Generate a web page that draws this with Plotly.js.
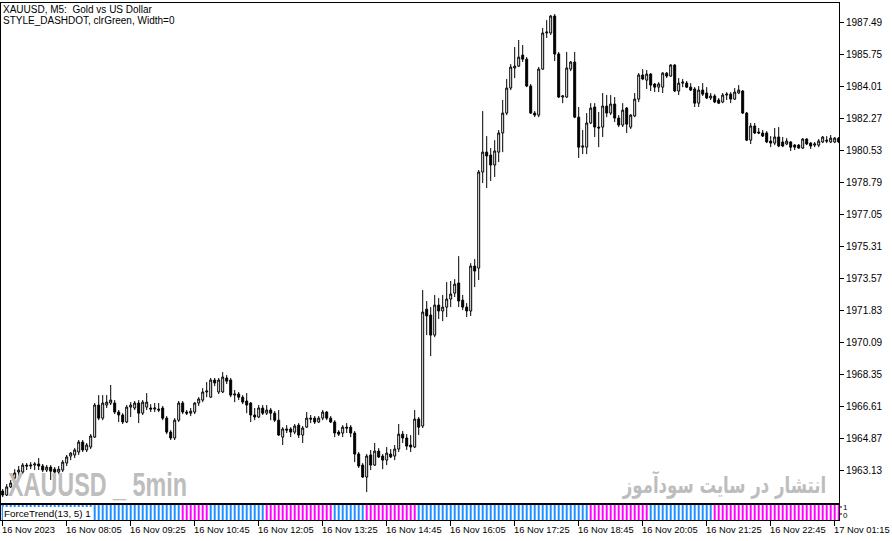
<!DOCTYPE html>
<html><head><meta charset="utf-8">
<script src="https://cdn.plot.ly/plotly-3.0.1.min.js"></script>
<style>html,body{margin:0;padding:0;background:#fff;}#chart{width:892px;height:541px;}</style>
</head><body><div id="chart"></div>
<script>
// XAUUSD M5 candles (price values)
const opens = [
1962.04,1961.82,1962.26,1962.75,1963.07,1963.07,1963.45,1963.40,1963.45,1963.51,
1963.40,1963.18,1963.34,1963.23,1963.07,1963.18,1963.56,1963.94,1964.00,1964.16,
1964.70,1964.27,1964.43,1964.97,1966.71,1966.00,1966.71,1966.82,1966.82,1966.33,
1966.17,1965.79,1966.60,1966.55,1966.82,1966.27,1966.60,1966.55,1966.49,1966.49,
1966.55,1966.00,1965.24,1964.92,1965.89,1966.82,1966.33,1966.27,1966.33,1966.82,
1966.98,1967.42,1967.14,1968.07,1967.42,1967.42,1968.18,1968.07,1967.25,1967.31,
1967.14,1966.93,1966.82,1966.17,1966.06,1966.55,1966.27,1966.44,1966.27,1965.89,
1964.97,1965.41,1965.41,1965.24,1965.62,1965.08,1965.51,1966.00,1966.00,1965.79,
1966.00,1966.33,1966.00,1965.79,1965.24,1965.19,1965.51,1965.51,1965.19,1964.05,
1963.45,1962.80,1964.00,1963.45,1964.21,1963.94,1963.72,1964.05,1963.94,1964.32,
1965.13,1964.92,1964.54,1964.43,1965.95,1965.57,1971.92,1971.60,1970.51,1972.14,
1971.82,1972.03,1972.47,1972.79,1973.34,1972.41,1972.03,1971.82,1974.26,1974.15,
1979.37,1980.45,1980.29,1979.75,1980.45,1981.49,1982.57,1983.93,1985.02,1985.12,
1985.72,1985.50,1984.04,1982.57,1982.46,1984.96,1986.92,1986.92,1987.84,1985.78,
1983.44,1983.44,1984.96,1985.34,1982.35,1980.72,1980.72,1982.03,1982.90,1981.81,
1981.81,1982.95,1982.57,1983.06,1982.30,1981.92,1982.84,1981.81,1982.41,1983.33,
1984.64,1984.36,1984.69,1984.15,1983.98,1983.98,1984.74,1984.58,1985.18,1983.77,
1984.20,1984.20,1983.98,1983.88,1983.11,1983.82,1983.66,1983.39,1983.50,1983.28,
1983.17,1983.55,1983.60,1983.33,1983.66,1983.77,1982.57,1981.10,1981.87,1981.54,
1981.49,1981.49,1981.05,1980.94,1981.27,1981.00,1980.89,1981.00,1980.83,1980.83,
1980.67,1981.16,1980.94,1980.83,1980.83,1981.00,1981.10,1981.00,1981.00,1981.21];
const highs = [
1962.15,1962.42,1962.64,1963.23,1963.40,1963.56,1963.56,1963.61,1963.61,1963.83,
1963.51,1963.45,1963.45,1963.34,1963.40,1963.72,1964.00,1964.16,1964.37,1964.81,
1964.81,1964.65,1965.13,1966.82,1967.25,1967.25,1967.25,1967.80,1966.98,1966.44,
1966.27,1966.71,1966.87,1966.93,1966.98,1966.98,1967.36,1966.76,1966.82,1966.82,
1966.66,1966.11,1965.35,1966.00,1966.93,1966.93,1966.44,1966.55,1966.87,1967.14,
1967.63,1967.96,1968.18,1968.18,1968.18,1968.50,1968.34,1968.18,1967.53,1967.42,
1967.25,1967.36,1966.87,1966.55,1966.71,1966.71,1966.71,1966.55,1966.38,1966.44,
1965.51,1965.62,1965.51,1965.68,1965.73,1965.57,1966.33,1966.17,1966.11,1966.11,
1966.44,1966.38,1966.11,1965.89,1965.35,1965.62,1965.73,1965.62,1965.30,1964.16,
1963.56,1964.05,1964.27,1964.65,1964.37,1964.05,1964.43,1964.32,1964.54,1965.68,
1965.30,1965.13,1965.08,1966.44,1966.06,1972.96,1972.36,1972.03,1972.69,1972.52,
1972.69,1973.39,1973.45,1973.55,1974.80,1972.69,1972.25,1974.42,1974.64,1979.48,
1982.68,1981.32,1980.67,1981.10,1981.65,1983.28,1984.42,1985.23,1986.16,1986.54,
1986.27,1985.61,1984.15,1982.68,1985.07,1987.19,1987.62,1987.90,1987.95,1985.89,
1983.55,1985.89,1985.40,1985.89,1982.90,1981.65,1982.57,1983.11,1983.11,1982.63,
1983.66,1983.55,1983.55,1983.44,1982.46,1983.11,1982.90,1982.52,1983.66,1984.74,
1984.96,1984.91,1984.74,1984.20,1984.25,1984.80,1984.80,1985.23,1985.23,1984.47,
1984.42,1984.31,1984.20,1983.98,1984.04,1984.20,1983.98,1983.66,1983.60,1983.39,
1983.66,1983.71,1983.71,1983.93,1984.09,1983.82,1982.63,1982.03,1982.03,1981.76,
1981.65,1981.59,1981.32,1981.76,1981.81,1981.27,1981.21,1981.05,1980.89,1980.89,
1981.21,1981.21,1981.00,1981.00,1981.16,1981.32,1981.32,1981.38,1981.27,1981.27];
const lows = [
1961.71,1961.77,1962.20,1962.64,1962.85,1962.96,1963.18,1963.23,1963.18,1963.18,
1963.07,1963.07,1962.64,1962.53,1962.96,1963.07,1963.40,1963.72,1963.83,1964.00,
1964.16,1964.16,1964.32,1964.92,1965.89,1965.89,1966.55,1966.71,1966.22,1965.79,
1965.68,1965.73,1966.06,1966.44,1965.73,1966.17,1966.44,1966.33,1966.33,1966.33,
1965.89,1965.13,1964.81,1964.81,1965.79,1966.22,1966.17,1966.11,1966.22,1966.66,
1966.87,1967.14,1967.09,1967.74,1967.31,1967.36,1967.85,1967.14,1966.87,1966.98,
1966.76,1966.27,1965.79,1965.89,1966.00,1966.17,1966.17,1965.89,1965.79,1965.03,
1964.54,1965.19,1964.97,1965.13,1964.92,1964.65,1965.46,1965.73,1965.68,1965.73,
1965.89,1965.89,1965.73,1964.97,1965.03,1964.97,1965.19,1964.97,1963.61,1963.29,
1962.75,1961.98,1963.18,1963.40,1963.83,1963.23,1963.45,1963.83,1963.72,1964.16,
1964.65,1964.27,1964.16,1964.37,1965.08,1965.46,1970.51,1969.37,1970.40,1971.38,
1971.27,1971.49,1972.03,1972.58,1972.03,1971.87,1971.49,1971.55,1973.12,1973.50,
1978.77,1978.50,1978.88,1979.10,1979.91,1980.45,1982.46,1983.82,1984.47,1985.07,
1985.34,1983.98,1982.52,1982.35,1982.35,1984.91,1986.65,1986.81,1985.40,1983.39,
1983.11,1983.39,1984.85,1982.30,1980.13,1980.34,1980.34,1981.97,1981.27,1980.72,
1981.27,1982.35,1982.46,1982.08,1981.81,1981.81,1981.49,1981.70,1982.35,1983.17,
1984.36,1983.88,1983.77,1983.71,1983.71,1983.66,1984.47,1984.53,1983.71,1983.55,
1983.98,1983.93,1983.77,1982.90,1982.90,1983.50,1983.33,1983.28,1983.11,1983.06,
1983.11,1983.28,1983.11,1983.28,1983.60,1982.52,1981.05,1980.89,1981.43,1981.43,
1981.27,1980.94,1980.72,1980.83,1980.72,1980.72,1980.83,1980.51,1980.56,1980.62,
1980.62,1980.83,1980.62,1980.72,1980.72,1980.94,1980.94,1980.94,1980.94,1980.94];
const closes = [
1961.82,1962.26,1962.47,1963.02,1963.18,1963.45,1963.40,1963.45,1963.51,1963.40,
1963.18,1963.34,1963.12,1963.07,1963.23,1963.61,1963.89,1964.10,1964.27,1964.70,
1964.27,1964.54,1965.03,1966.71,1966.00,1966.82,1966.87,1966.98,1966.33,1966.17,
1965.79,1966.60,1966.71,1966.82,1966.27,1966.87,1966.87,1966.49,1966.55,1966.44,
1966.00,1965.24,1964.92,1965.89,1966.82,1966.33,1966.27,1966.38,1966.82,1967.04,
1967.42,1967.47,1968.07,1967.91,1968.07,1968.23,1968.01,1967.25,1967.31,1967.14,
1966.87,1966.71,1966.17,1966.06,1966.55,1966.27,1966.44,1966.27,1965.89,1965.08,
1965.41,1965.35,1965.24,1965.57,1965.08,1965.46,1966.00,1965.95,1965.79,1966.00,
1966.33,1966.00,1965.79,1965.19,1965.13,1965.51,1965.46,1965.19,1964.05,1963.40,
1962.80,1963.94,1963.45,1964.21,1963.89,1963.72,1964.10,1963.89,1964.32,1965.13,
1964.92,1964.48,1964.43,1965.95,1965.51,1971.76,1971.55,1970.51,1972.14,1971.82,
1972.03,1972.47,1972.74,1973.28,1972.36,1972.03,1971.82,1974.26,1973.99,1979.37,
1980.45,1980.24,1979.75,1980.51,1981.49,1982.57,1983.93,1985.07,1985.12,1985.61,
1985.50,1984.04,1982.57,1982.46,1984.96,1986.92,1986.97,1987.84,1985.78,1983.44,
1983.50,1985.02,1985.34,1982.35,1980.72,1980.78,1982.03,1982.84,1981.81,1981.76,
1982.95,1982.57,1983.06,1982.30,1981.92,1982.73,1981.97,1982.46,1983.33,1984.64,
1984.42,1984.69,1984.09,1983.98,1984.15,1984.74,1984.58,1985.18,1983.77,1984.20,
1984.25,1983.98,1983.82,1983.11,1983.82,1983.60,1983.39,1983.50,1983.17,1983.11,
1983.55,1983.60,1983.33,1983.71,1983.82,1982.57,1981.10,1981.87,1981.49,1981.49,
1981.32,1981.00,1980.94,1981.27,1980.78,1980.78,1981.05,1980.72,1980.72,1980.67,
1981.16,1980.89,1980.78,1980.89,1981.05,1981.27,1981.05,1981.21,1981.21,1981.00];
// ForceTrend(13,5) direction per bar: 1 = up (blue), -1 = down (magenta)
const trendDir = [
1,1,1,1,1,1,1,1,1,1, 1,1,1,1,1,1,1,1,1,1, 1,1,1,1,1,1,1,1,1,1, 1,1,1,1,1,1,1,1,1,1,
1,1,1,1,1,-1,-1,-1,-1,-1, -1,-1,1,1,1,1,1,1,1,1, 1,1,1,1,1,1,-1,-1,-1,-1, -1,-1,-1,-1,-1,-1,-1,-1,-1,-1,
-1,-1,-1,1,1,1,1,1,1,1, 1,-1,-1,-1,-1,-1,-1,-1,-1,-1, -1,-1,-1,-1,1,1,1,1,1,1, 1,1,1,1,1,1,1,1,1,1,
1,1,1,1,1,1,1,1,1,1, 1,1,1,1,1,1,1,1,1,1, 1,1,1,1,1,1,1,-1,-1,-1, -1,-1,-1,-1,-1,-1,-1,-1,-1,-1,
-1,-1,1,1,1,1,1,1,1,1, 1,1,1,1,1,1,1,1,-1,-1, -1,-1,-1,-1,-1,-1,-1,-1,-1,-1, -1,-1,-1,-1,-1,-1,-1,-1,-1,-1,
-1,-1,-1,-1,-1,-1,-1,-1,-1,-1];
const timeTickIdx = [0,16,32,48,64,80,96,112,128,144,160,176,192,208];
const timeTickText = ["16 Nov 2023","16 Nov 08:05","16 Nov 09:25","16 Nov 10:45","16 Nov 12:05","16 Nov 13:25","16 Nov 14:45","16 Nov 16:05","16 Nov 17:25","16 Nov 18:45","16 Nov 20:05","16 Nov 21:25","16 Nov 22:45","17 Nov 01:15"];
const priceTicks = [1963.13,1964.87,1966.61,1968.35,1970.09,1971.83,1973.57,1975.31,1977.05,1978.79,1980.53,1982.27,1984.01,1985.75,1987.49];

const idx = opens.map((_, i) => i);
const FONT = "Liberation Sans, Arial, sans-serif";
// layout helpers: pixel -> paper fraction (plot area x 1..839, y 3..520)
const px = x => (x - 1) / 838;
const py = y => (520 - y) / 517;

const candles = {
  type: 'candlestick', x: idx, open: opens, high: highs, low: lows, close: closes,
  xaxis: 'x', yaxis: 'y', whiskerwidth: 0, hoverinfo: 'skip',
  increasing: {line: {color: '#000000', width: 1}, fillcolor: '#ffffff'},
  decreasing: {line: {color: '#000000', width: 1}, fillcolor: '#000000'}
};
const hist = {
  type: 'bar', x: idx, y: trendDir.map(Math.abs), width: 0.5,
  marker: {color: trendDir.map(d => d > 0 ? '#1E90FF' : '#FF00FF'), line: {width: 0}},
  xaxis: 'x2', yaxis: 'y2', hoverinfo: 'skip'
};

const WM_LATIN = 'XAUUSD _ 5min';
const WM_FA = 'انتشار در سایت سودآموز';
const annotations = [
  {text: 'XAUUSD, M5:  Gold vs US Dollar', xref: 'paper', yref: 'paper', x: px(3), y: py(9), xanchor: 'left', yanchor: 'middle', showarrow: false, borderpad: 0, borderwidth: 0, font: {family: FONT, size: 10, color: '#000'}},
  {text: 'STYLE_DASHDOT, clrGreen, Width=0', xref: 'paper', yref: 'paper', x: px(3), y: py(20.5), xanchor: 'left', yanchor: 'middle', showarrow: false, borderpad: 0, borderwidth: 0, font: {family: FONT, size: 10, color: '#000'}},
  {text: '<b>' + WM_LATIN + '</b>', xref: 'paper', yref: 'paper', x: px(8), y: py(484), xanchor: 'left', yanchor: 'middle', showarrow: false, borderpad: 0, borderwidth: 0, font: {family: FONT, size: 33, color: '#BDBDBD'}},
  {text: '<b>' + WM_FA + '</b>', xref: 'paper', yref: 'paper', x: px(826), y: py(484), xanchor: 'right', yanchor: 'middle', showarrow: false, borderpad: 0, borderwidth: 0, font: {family: 'DejaVu Sans, sans-serif', size: 23, color: '#BDBDBD'}},
  {text: 'ForceTrend(13, 5) 1', xref: 'paper', yref: 'paper', x: px(3), y: py(513.5), xanchor: 'left', yanchor: 'middle', showarrow: false, borderpad: 1, borderwidth: 0, bgcolor: '#ffffff', font: {family: FONT, size: 9.8, color: '#000'}},
  {text: '1', xref: 'paper', yref: 'paper', x: px(843), y: py(507), xanchor: 'left', yanchor: 'middle', showarrow: false, borderpad: 0, borderwidth: 0, font: {family: FONT, size: 8, color: '#000'}},
  {text: '0', xref: 'paper', yref: 'paper', x: px(843), y: py(515), xanchor: 'left', yanchor: 'middle', showarrow: false, borderpad: 0, borderwidth: 0, font: {family: FONT, size: 8, color: '#000'}}
];
timeTickIdx.forEach((k, i) => annotations.push({
  text: timeTickText[i], xref: 'x2', yref: 'paper', x: k, y: py(529.5), xanchor: 'left', yanchor: 'middle', xshift: -1,
  showarrow: false, borderpad: 0, borderwidth: 0, font: {family: FONT, size: 9.35, color: '#000'}
}));

const axisCommon = {showgrid: false, zeroline: false, showline: true, mirror: true, linecolor: '#000', linewidth: 1, fixedrange: true};
const xr = [-0.425, 209.075];
const layout = {
  width: 892, height: 541, margin: {l: 1, r: 53, t: 3, b: 21, pad: 0},
  paper_bgcolor: '#ffffff', plot_bgcolor: '#ffffff', showlegend: false,
  font: {family: FONT, size: 10, color: '#000'},
  xaxis: Object.assign({}, axisCommon, {domain: [0, 1], range: xr, type: 'linear', showticklabels: false, ticks: '', anchor: 'y', rangeslider: {visible: false}}),
  yaxis: Object.assign({}, axisCommon, {domain: [py(503), 1], range: [1961.39, 1988.55], side: 'right', anchor: 'x',
    tickvals: priceTicks, ticktext: priceTicks.map(v => v.toFixed(2)), ticks: 'outside', ticklen: 4, tickcolor: '#000', ticklabelstandoff: 0, tickfont: {family: FONT, size: 10, color: '#000'}}),
  xaxis2: Object.assign({}, axisCommon, {domain: [0, 1], range: xr, type: 'linear', anchor: 'y2', tickvals: timeTickIdx, ticks: 'outside', ticklen: 5, tickcolor: '#000', showticklabels: false}),
  yaxis2: Object.assign({}, axisCommon, {domain: [0, py(505)], range: [0, 1], side: 'right', anchor: 'x2', showticklabels: false, ticks: ''}),
  annotations: annotations,
  shapes: [
    {type: 'line', xref: 'paper', yref: 'paper', x0: px(839), x1: px(842), y0: py(507), y1: py(507), line: {color: '#000', width: 1}},
    {type: 'line', xref: 'paper', yref: 'paper', x0: px(839), x1: px(842), y0: py(514), y1: py(514), line: {color: '#000', width: 1}}
  ]
};

// condense a watermark text horizontally so that it spans the width seen in the chart
function condense(textEl, targetWidth, anchor) {
  const bb = textEl.getBBox();
  if (!bb.width) return;
  const s = targetWidth / bb.width;
  const cx = anchor === 'right' ? bb.x + bb.width : bb.x;
  textEl.setAttribute('transform', 'translate(' + cx + ',0) scale(' + s + ',1) translate(' + (-cx) + ',0)');
}
Plotly.newPlot('chart', [candles, hist], layout, {staticPlot: true, displayModeBar: false}).then(() => {
  document.querySelectorAll('#chart .annotation-text').forEach(t => {
    const s = t.textContent;
    if (s === WM_LATIN) condense(t, 179, 'left');
    else if (s === WM_FA) condense(t, 204, 'right');
  });
});
</script>
</body></html>
